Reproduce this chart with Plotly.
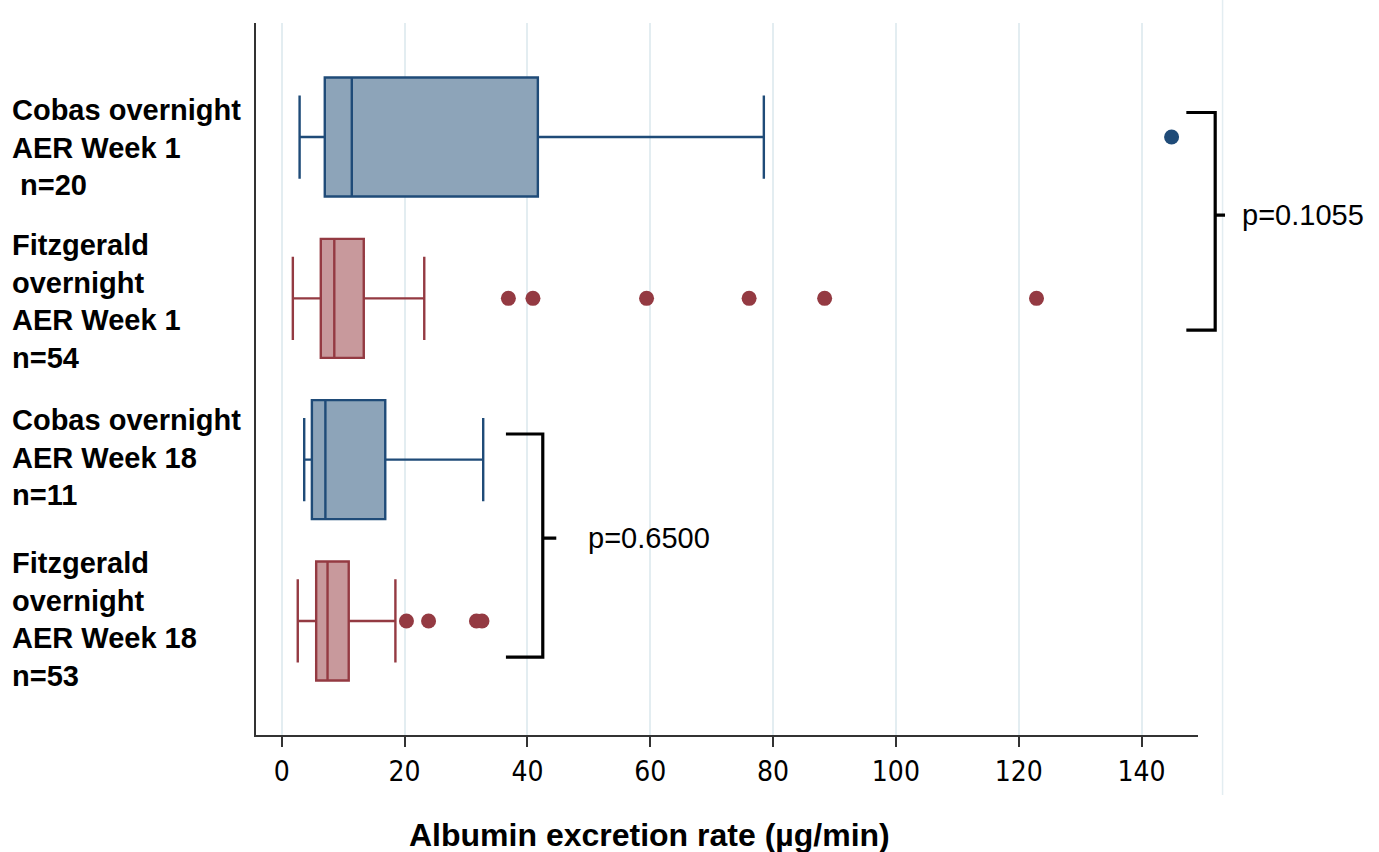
import plotly.graph_objects as go

# ---------------- data ----------------
labels = [
    "Cobas overnight<br>AER Week 1<br>\u00a0n=20",
    "Fitzgerald<br>overnight<br>AER Week 1<br>n=54",
    "Cobas overnight<br>AER Week 18<br>n=11",
    "Fitzgerald<br>overnight<br>AER Week 18<br>n=53",
]
positions = [0, 1, 2, 3]
assay = ["Cobas", "Fitzgerald", "Cobas", "Fitzgerald"]
lower_whisker = [2.9, 1.8, 3.65, 2.6]
q1 = [7.0, 6.35, 4.9, 5.6]
median = [11.4, 8.55, 7.1, 7.45]
q3 = [41.7, 13.35, 16.85, 10.9]
upper_whisker = [78.5, 23.2, 32.8, 18.5]
outliers = [
    [144.9],
    [36.9, 40.9, 59.4, 76.1, 88.4, 122.9],
    [],
    [20.3, 23.9, 31.7, 32.6],
]
x_ticks = [0, 20, 40, 60, 80, 100, 120, 140]
p_values = ["p=0.1055", "p=0.6500"]
# bracket extents in data units: (x_start, x_bar, x_tick_end, x_text, y_top, y_bottom, y_mid)
brackets = [
    (147.3, 152.0, 153.6, 156.1, -0.152, 1.197, 0.484),
    (36.5, 42.5, 44.7, 49.6, 1.841, 3.224, 2.486),
]
label_offsets = [0.065, 0.02, -0.015, -0.01]

# ---------------- styling ----------------
fill = {"Cobas": "#8DA4B9", "Fitzgerald": "#C8999C"}
edge = {"Cobas": "#1F4B78", "Fitzgerald": "#943A42"}

W, H = 1379, 852
ML, MR, MT, MB = 256, 181, 23, 117
XR = [-4.2, 149.2]
YR = [3.707, -0.707]
PH = H - MT - MB


def xp(v):
    return (v - XR[0]) / (XR[1] - XR[0])


def yp(v):
    return (YR[0] - v) / (YR[0] - YR[1])


fig = go.Figure()

for i, pos in enumerate(positions):
    a = assay[i]
    fig.add_trace(go.Box(
        y=[pos], q1=[q1[i]], median=[median[i]], q3=[q3[i]],
        lowerfence=[lower_whisker[i]], upperfence=[upper_whisker[i]],
        orientation="h", width=0.738, whiskerwidth=0.7,
        fillcolor=fill[a], line=dict(color=edge[a], width=2.4),
        boxpoints=False, showlegend=False, hoverinfo="skip",
    ))
    if outliers[i]:
        fig.add_trace(go.Scatter(
            x=outliers[i], y=[pos] * len(outliers[i]), mode="markers",
            marker=dict(color=edge[a], size=15, line=dict(width=0)),
            showlegend=False, hoverinfo="skip", cliponaxis=False,
        ))

shapes = []
annotations = []
for (x0, x1, x2, xt, yt, yb, ym), ptxt in zip(brackets, p_values):
    path = (f"M {xp(x0)},{yp(yt)} L {xp(x1)},{yp(yt)} L {xp(x1)},{yp(yb)} "
            f"L {xp(x0)},{yp(yb)} M {xp(x1)},{yp(ym)} L {xp(x2)},{yp(ym)}")
    shapes.append(dict(type="path", xref="paper", yref="paper", path=path,
                       line=dict(color="black", width=3.2)))
    annotations.append(dict(
        x=xp(xt), y=yp(ym), xref="paper", yref="paper", text=ptxt,
        showarrow=False, xanchor="left", yanchor="middle",
        font=dict(family="Liberation Sans, Arial", size=29, color="black"),
    ))

# faint outer frame line on the right (from page top to below the axis)
shapes.append(dict(type="line", xref="paper", yref="paper",
                   x0=xp(153.2), x1=xp(153.2),
                   y0=(H - MB) / PH, y1=(H - MB - 795.0) / PH,
                   line=dict(color="#E3EDF1", width=1.5), layer="below"))

for i, pos in enumerate(positions):
    annotations.append(dict(
        x=(10 - ML) / (W - ML - MR), y=pos + label_offsets[i],
        xref="paper", yref="y", text="<b>" + labels[i] + "</b>",
        showarrow=False, xanchor="left", yanchor="middle", align="left",
        font=dict(family="Liberation Sans, Arial", size=29, color="black"),
    ))

annotations.append(dict(
    x=xp(59.9), y=(H - MB - 835.0) / PH, xref="paper", yref="paper",
    text="<b>Albumin excretion rate (µg/min)</b>", showarrow=False,
    xanchor="center", yanchor="middle",
    font=dict(family="Liberation Sans, Arial", size=32, color="black"),
))

fig.update_layout(
    width=W, height=H,
    margin=dict(l=ML, r=MR, t=MT, b=MB, pad=0),
    paper_bgcolor="white", plot_bgcolor="white",
    shapes=shapes, annotations=annotations,
    xaxis=dict(
        range=XR, tickvals=x_ticks, ticktext=[str(t) for t in x_ticks],
        showgrid=True, gridcolor="#E3EDF1", gridwidth=1.5, zeroline=False,
        showline=True, linecolor="#333333", linewidth=2,
        ticks="outside", ticklen=10, tickwidth=2, tickcolor="#333333",
        tickfont=dict(family="Liberation Sans Narrow, Arial Narrow, DejaVu Sans Condensed, sans-serif",
                      size=28, color="black"),
        fixedrange=True,
    ),
    yaxis=dict(
        range=YR, showgrid=False, zeroline=False, showticklabels=False,
        showline=True, linecolor="#333333", linewidth=2, ticks="",
        fixedrange=True,
    ),
    boxmode="overlay",
)

fig.write_html(
    "out.html",
    config={"displayModeBar": False},
    post_script="document.body.style.margin='0';document.body.style.overflow='hidden';",
)
